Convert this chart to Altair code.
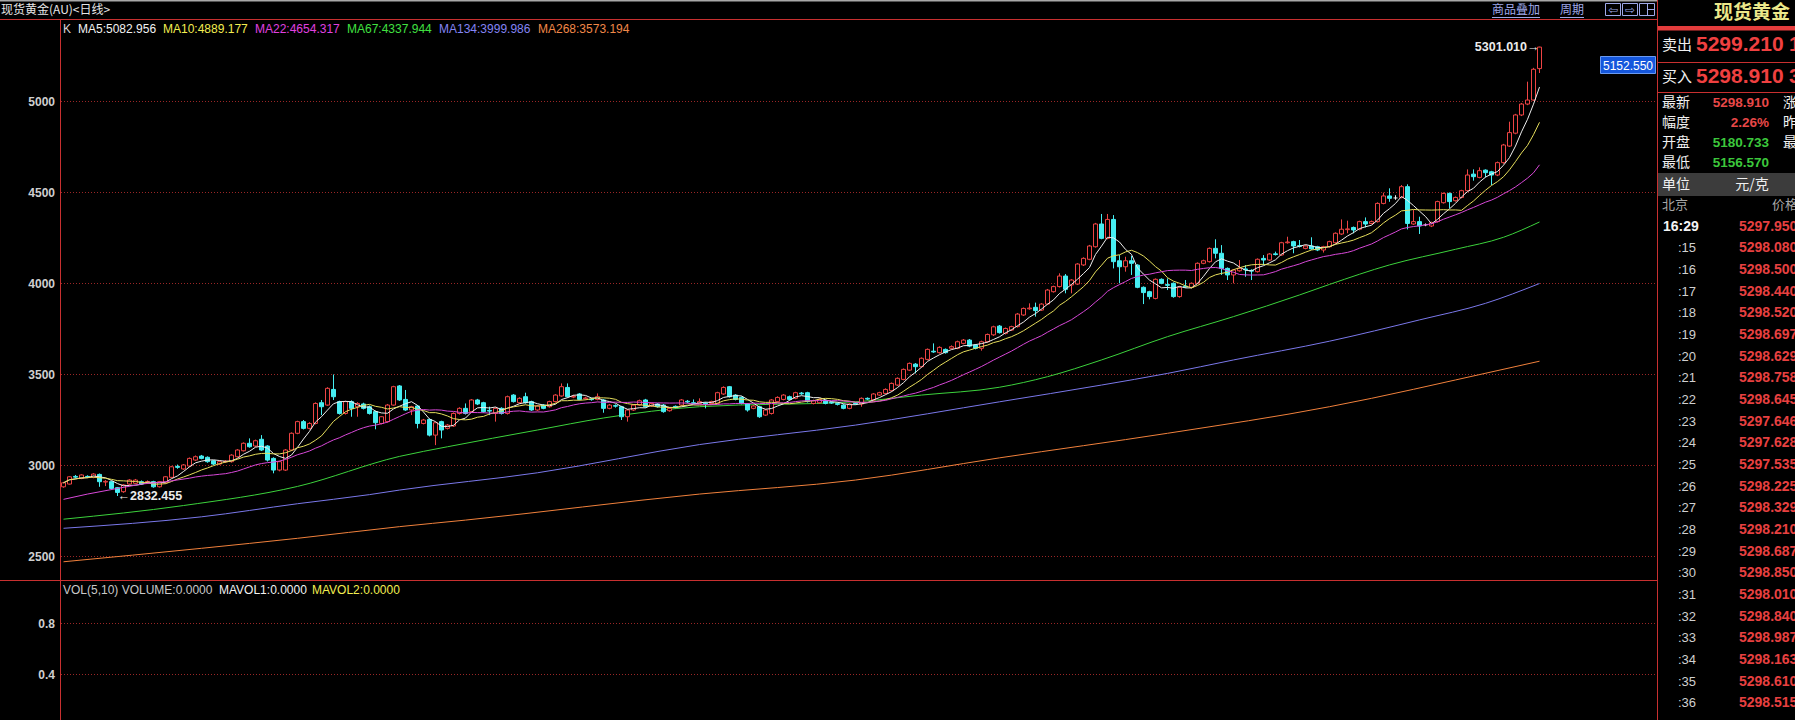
import altair as alt
import numpy as np
import pandas as pd

# ---------------- daily candles: spot gold (AU), one entry per session ----------------
opens = [
    2883, 2898, 2940, 2929, 2940, 2935, 2951, 2909, 2911, 2878,
    2856, 2898, 2902, 2911, 2910, 2911, 2883, 2905, 2935, 2995,
    2981, 2997, 3030, 3052, 3045, 3026, 3008, 3020, 3021, 3048,
    3081, 3122, 3107, 3144, 3107, 3039, 2975, 2975, 3085, 3177,
    3241, 3204, 3231, 3345, 3332, 3418, 3351, 3286, 3351, 3323,
    3338, 3323, 3296, 3231, 3241, 3332, 3437, 3363, 3305, 3327,
    3231, 3253, 3167, 3241, 3204, 3217, 3286, 3314, 3296, 3360,
    3345, 3303, 3286, 3314, 3286, 3387, 3345, 3378, 3351, 3305,
    3332, 3323, 3351, 3382, 3429, 3376, 3393, 3367, 3365, 3363,
    3360, 3314, 3329, 3323, 3268, 3305, 3332, 3360, 3327, 3338,
    3332, 3301, 3325, 3332, 3353, 3345, 3341, 3343, 3341, 3341,
    3393, 3433, 3387, 3374, 3338, 3314, 3323, 3277, 3286, 3351,
    3363, 3378, 3369, 3398, 3400, 3341, 3345, 3356, 3347, 3340,
    3332, 3314, 3343, 3338, 3369, 3360, 3387, 3396, 3411, 3442,
    3473, 3524, 3557, 3543, 3583, 3628, 3620, 3638, 3644, 3644,
    3671, 3689, 3662, 3644, 3680, 3718, 3766, 3726, 3744, 3763,
    3827, 3861, 3869, 3854, 3887, 3955, 3983, 4041, 3992, 3997,
    4102, 4133, 4202, 4327, 4248, 4352, 4125, 4092, 4125, 4101,
    3979, 3955, 3918, 4023, 3994, 4001, 3928, 3985, 3979, 4001,
    4111, 4120, 4193, 4166, 4083, 4047, 4070, 4080, 4072, 4065,
    4138, 4129, 4163, 4157, 4224, 4230, 4208, 4193, 4206, 4202,
    4184, 4202, 4224, 4272, 4296, 4308, 4298, 4340, 4330, 4340,
    4440, 4481, 4470, 4473, 4532, 4327, 4340, 4322, 4316, 4340,
    4444, 4495, 4455, 4473, 4510, 4601, 4583, 4623, 4614, 4596,
    4664, 4755, 4826, 4926, 4986, 5008, 5180.733,
]
highs = [
    2910, 2942, 2948, 2952, 2946, 2958, 2956, 2920, 2915, 2882,
    2898, 2925, 2926, 2918, 2918, 2916, 2915, 2942, 2998, 3005,
    3008, 3044, 3055, 3058, 3050, 3030, 3026, 3030, 3062, 3090,
    3127, 3149, 3142, 3167, 3112, 3045, 3026, 3090, 3182, 3246,
    3250, 3238, 3347, 3360, 3430, 3500, 3356, 3356, 3358, 3348,
    3345, 3330, 3302, 3272, 3338, 3438, 3442, 3415, 3328, 3332,
    3256, 3258, 3240, 3246, 3228, 3292, 3320, 3341, 3365, 3366,
    3350, 3323, 3320, 3320, 3384, 3392, 3375, 3400, 3356, 3332,
    3337, 3356, 3392, 3451, 3451, 3388, 3398, 3378, 3372, 3396,
    3365, 3338, 3336, 3328, 3310, 3338, 3362, 3366, 3346, 3343,
    3338, 3320, 3330, 3365, 3360, 3363, 3369, 3348, 3356, 3405,
    3435, 3437, 3392, 3380, 3343, 3332, 3328, 3310, 3365, 3380,
    3392, 3384, 3405, 3404, 3405, 3362, 3368, 3362, 3352, 3345,
    3337, 3343, 3348, 3374, 3374, 3398, 3405, 3424, 3456, 3484,
    3533, 3566, 3563, 3594, 3643, 3671, 3655, 3643, 3660, 3686,
    3695, 3695, 3667, 3686, 3725, 3768, 3772, 3758, 3768, 3838,
    3868, 3891, 3895, 3892, 3970, 3988, 4056, 4052, 4024, 4112,
    4144, 4212, 4333, 4382, 4382, 4376, 4156, 4147, 4151, 4106,
    3984, 3960, 4028, 4028, 4028, 4006, 3984, 4019, 4006, 4116,
    4131, 4198, 4243, 4211, 4088, 4079, 4129, 4101, 4078, 4138,
    4156, 4167, 4175, 4229, 4257, 4235, 4239, 4211, 4254, 4207,
    4207, 4235, 4281, 4352, 4345, 4313, 4345, 4363, 4346, 4446,
    4499, 4523, 4485, 4541, 4545, 4404, 4367, 4330, 4340, 4455,
    4500, 4500, 4478, 4515, 4627, 4627, 4638, 4627, 4619, 4670,
    4767, 4889, 4932, 4992, 5109, 5185, 5301.010,
]
lows = [
    2878, 2895, 2930, 2925, 2932, 2930, 2883, 2887, 2868, 2832.455,
    2850, 2894, 2898, 2894, 2904, 2878, 2879, 2900, 2930, 2982,
    2976, 2992, 3025, 3034, 3015, 3002, 3003, 3014, 3016, 3044,
    3077, 3098, 3102, 3080, 3022, 2957, 2968, 2970, 3080, 3172,
    3198, 3198, 3226, 3277, 3328, 3360, 3280, 3280, 3268, 3268,
    3308, 3280, 3199, 3226, 3236, 3328, 3355, 3300, 3277, 3204,
    3226, 3160, 3112, 3149, 3198, 3212, 3280, 3280, 3290, 3332,
    3290, 3277, 3241, 3280, 3280, 3346, 3340, 3340, 3300, 3300,
    3309, 3318, 3346, 3378, 3373, 3370, 3358, 3362, 3356, 3358,
    3290, 3309, 3318, 3250, 3241, 3300, 3327, 3318, 3322, 3318,
    3290, 3296, 3314, 3327, 3342, 3336, 3336, 3314, 3336, 3336,
    3388, 3373, 3358, 3336, 3296, 3309, 3262, 3272, 3280, 3346,
    3358, 3358, 3364, 3388, 3346, 3336, 3340, 3336, 3338, 3330,
    3309, 3309, 3334, 3323, 3360, 3355, 3382, 3391, 3406, 3437,
    3468, 3519, 3506, 3538, 3578, 3619, 3615, 3615, 3639, 3639,
    3666, 3650, 3638, 3631, 3675, 3712, 3725, 3720, 3739, 3758,
    3822, 3856, 3818, 3849, 3882, 3950, 3978, 3946, 3946, 3992,
    4096, 4128, 4197, 4243, 4243, 4083, 4001, 4065, 4047, 3974,
    3887, 3913, 3913, 3996, 3964, 3922, 3922, 3976, 3974, 3996,
    4106, 4115, 4138, 4047, 4019, 4001, 4065, 4037, 4019, 4060,
    4101, 4124, 4154, 4152, 4219, 4166, 4198, 4188, 4185, 4178,
    4170, 4197, 4219, 4267, 4276, 4276, 4292, 4308, 4325, 4335,
    4435, 4449, 4460, 4468, 4297, 4322, 4272, 4315, 4310, 4335,
    4439, 4413, 4450, 4468, 4505, 4565, 4578, 4583, 4541, 4590,
    4658, 4750, 4820, 4920, 4980, 5003, 5156.570,
]
closes = [
    2905, 2938, 2936, 2948, 2938, 2953, 2911, 2913, 2874, 2852,
    2893, 2920, 2920, 2898, 2912, 2883, 2911, 2938, 2993, 2990,
    3003, 3039, 3048, 3039, 3021, 3008, 3021, 3024, 3057, 3085,
    3122, 3103, 3136, 3085, 3030, 2975, 3021, 3085, 3177, 3241,
    3204, 3231, 3341, 3323, 3424, 3378, 3286, 3351, 3314, 3341,
    3314, 3286, 3235, 3268, 3332, 3433, 3360, 3305, 3323, 3231,
    3250, 3167, 3235, 3195, 3222, 3286, 3314, 3286, 3360, 3338,
    3296, 3299, 3314, 3286, 3378, 3351, 3369, 3345, 3305, 3327,
    3314, 3351, 3387, 3433, 3378, 3380, 3363, 3371, 3362, 3378,
    3314, 3332, 3326, 3268, 3305, 3332, 3356, 3323, 3341, 3323,
    3296, 3314, 3321, 3360, 3349, 3341, 3351, 3339, 3351, 3400,
    3429, 3378, 3363, 3341, 3305, 3327, 3268, 3305, 3360, 3374,
    3387, 3363, 3400, 3394, 3351, 3356, 3363, 3341, 3343, 3336,
    3314, 3338, 3339, 3369, 3365, 3393, 3400, 3418, 3451, 3479,
    3528, 3561, 3543, 3589, 3638, 3624, 3649, 3620, 3653, 3680,
    3689, 3656, 3644, 3680, 3720, 3762, 3730, 3753, 3763, 3832,
    3863, 3865, 3851, 3887, 3964, 3983, 4041, 3968, 4019, 4107,
    4138, 4206, 4327, 4248, 4352, 4120, 4092, 4125, 4111, 3979,
    3950, 3928, 4023, 4001, 3990, 3928, 3979, 3981, 4001, 4111,
    4125, 4193, 4166, 4083, 4047, 4074, 4083, 4076, 4068, 4133,
    4129, 4162, 4159, 4224, 4228, 4206, 4204, 4206, 4190, 4184,
    4202, 4230, 4276, 4298, 4300, 4294, 4340, 4327, 4340, 4440,
    4481, 4468, 4470, 4532, 4330, 4340, 4316, 4322, 4334, 4450,
    4495, 4450, 4473, 4510, 4596, 4587, 4620, 4609, 4596, 4664,
    4761, 4829, 4926, 4986, 5008, 5177, 5298.910,
]

# MA22 over the first sessions (its window reaches back before the first candle)
ma22_head_idx = [0, 4, 9, 13, 17]
ma22_head_val = [2814, 2843, 2874, 2898, 2911]

# long moving averages, sampled along the session axis
ma67_idx = [0, 20, 39, 56, 64, 79, 90, 106, 132, 143, 156, 164, 173, 184, 195, 206, 211, 221, 232, 240, 246]
ma67_val = [2705, 2780, 2885, 3050, 3103, 3195, 3261, 3323, 3350, 3387, 3430, 3488, 3580, 3708, 3818, 3937, 3995, 4102, 4188, 4254, 4338]
ma134_idx = [0, 23, 39, 51, 56, 79, 106, 132, 156, 173, 184, 195, 211, 226, 237, 246]
ma134_val = [2655, 2718, 2790, 2840, 2865, 2960, 3115, 3222, 3350, 3442, 3506, 3580, 3683, 3800, 3891, 4000]
ma268_idx = [0, 23, 39, 56, 67, 106, 132, 156, 184, 211, 218, 232, 246]
ma268_val = [2471, 2545, 2600, 2664, 2700, 2843, 2920, 3042, 3177, 3323, 3369, 3470, 3573]

price_ticks = [2500, 3000, 3500, 4000, 4500, 5000]
vol_ticks = [0.4, 0.8]

legend_items = ["K", "MA5:5082.956", "MA10:4889.177", "MA22:4654.317",
                "MA67:4337.944", "MA134:3999.986", "MA268:3573.194"]
vol_legend_items = ["VOL(5,10) VOLUME:0.0000", "MAVOL1:0.0000", "MAVOL2:0.0000"]

quote_labels = ["最新", "幅度", "开盘", "最低"]
quote_values = ["5298.910", "2.26%", "5180.733", "5156.570"]
quote_tail = ["涨", "昨", "最", ""]

tick_times = ["16:29", ":15", ":16", ":17", ":18", ":19", ":20", ":21", ":22", ":23", ":24", ":25",
              ":26", ":27", ":28", ":29", ":30", ":31", ":32", ":33", ":34", ":35", ":36"]
tick_prices = ["5297.950", "5298.080", "5298.500", "5298.440", "5298.520", "5298.697", "5298.629",
               "5298.758", "5298.645", "5297.646", "5297.628", "5297.535", "5298.225", "5298.329",
               "5298.210", "5298.687", "5298.850", "5298.010", "5298.840", "5298.987", "5298.163",
               "5298.610", "5298.515"]

# ---------------- styling ----------------
SANS = "Liberation Sans"
CJK = "Noto Sans CJK SC"
FRAME = "#c83030"
GRID = "#9a2626"
UP = "#ee4444"
DOWN = "#46eef2"
FLAT = "#f0f0f0"
LINK = "#9fa8e8"
W, H = 1795, 720
PANEL_R = 1657

n = len(closes)
bars = pd.DataFrame({"i": np.arange(n), "open": opens, "high": highs, "low": lows, "close": closes})
bars["top"] = bars[["open", "close"]].max(axis=1)
bars["bot"] = bars[["open", "close"]].min(axis=1)
bars["dir"] = np.select([bars.close > bars.open, bars.close < bars.open], ["up", "down"], "flat")
bars["x0"] = bars.i - 1 / 3
bars["x1"] = bars.i + 1 / 3

cs = pd.Series(closes, dtype=float)
ma5 = cs.rolling(5, min_periods=1).mean()
ma10 = cs.rolling(10, min_periods=1).mean()
ma22 = cs.rolling(22).mean()

short_ma = pd.concat([
    pd.DataFrame({"i": np.arange(n), "v": ma5, "name": "MA5"}),
    pd.DataFrame({"i": np.arange(n), "v": ma10, "name": "MA10"}),
    pd.DataFrame({"i": ma22_head_idx, "v": ma22_head_val, "name": "MA22"}),
    pd.DataFrame({"i": np.arange(21, n), "v": ma22[21:].values, "name": "MA22"}),
], ignore_index=True)
long_ma = pd.concat([
    pd.DataFrame({"i": ma67_idx, "v": ma67_val, "name": "MA67"}),
    pd.DataFrame({"i": ma134_idx, "v": ma134_val, "name": "MA134"}),
    pd.DataFrame({"i": ma268_idx, "v": ma268_val, "name": "MA268"}),
], ignore_index=True)

# scales: session index -> plot columns, price -> main panel, volume -> lower panel
XS = alt.Scale(domain=[0, n - 1], range=[63.5, 63.5 + 6 * (n - 1)], nice=False, zero=False)
YS = alt.Scale(domain=[2500, 5000], range=[556.5, 101.5], nice=False, zero=False)
VS = alt.Scale(domain=[0.4, 0.8], range=[674.5, 623.5], nice=False, zero=False)
RS = alt.Scale(domain=[0, len(tick_times) - 1], range=[226.7, 703.4], nice=False, zero=False)

xi = alt.X("i:Q", scale=XS, axis=None)
dir_color = alt.Color("dir:N", scale=alt.Scale(domain=["up", "down", "flat"], range=[UP, DOWN, FLAT]), legend=None)

one = pd.DataFrame({"k": [0]})


def txt(s, x, y, color, size=12, bold=False, align="left", font=SANS):
    return alt.Chart(one).mark_text(
        text=s, align=align, baseline="middle", font=font, fontSize=size,
        fontWeight="bold" if bold else "normal", color=color,
    ).encode(x=alt.value(x), y=alt.value(y))


def rect(x0, x1, y0, y1, fill=None, stroke=None):
    kw = {}
    if fill:
        kw["fill"] = fill
    else:
        kw["fillOpacity"] = 0
    if stroke:
        kw["stroke"] = stroke
        kw["strokeWidth"] = 1
    return alt.Chart(one).mark_rect(**kw).encode(
        x=alt.value(x0), x2=alt.value(x1), y=alt.value(y0), y2=alt.value(y1))


def rule(x0, x1, y0, y1, color, width=1):
    return alt.Chart(one).mark_rule(color=color, strokeWidth=width).encode(
        x=alt.value(x0), x2=alt.value(x1), y=alt.value(y0), y2=alt.value(y1))


layers = []

# ---- frame and header ----
layers += [
    rule(0, PANEL_R, 0.5, 0.5, "#a8a8a8", 2),
    rule(0, PANEL_R, 19.5, 19.5, FRAME),
    rule(0, PANEL_R, 580.5, 580.5, FRAME),
    rule(60.5, 60.5, 19.5, H, FRAME),
    rule(PANEL_R + 0.5, PANEL_R + 0.5, 0, H, FRAME),
    txt("现货黄金(AU)<日线>", 1, 10, "#e6e6e6", 12, font=CJK),
    txt("商品叠加", 1492, 10, LINK, 12, font=CJK),
    rule(1492, 1540, 17.5, 17.5, LINK),
    txt("周期", 1560, 10, LINK, 12, font=CJK),
    rule(1560, 1584, 17.5, 17.5, LINK),
    rect(1605.5, 1620.5, 3.5, 15.5, stroke=LINK),
    rect(1622.5, 1637.5, 3.5, 15.5, stroke=LINK),
    rect(1639.5, 1654.5, 3.5, 15.5, stroke=LINK),
    txt("⇦", 1613, 9.5, LINK, 12, align="center", font="DejaVu Sans"),
    txt("⇨", 1630, 9.5, LINK, 12, align="center", font="DejaVu Sans"),
    rule(1647.5, 1647.5, 3.5, 15.5, LINK),
    rule(1647.5, 1654.5, 9.5, 9.5, LINK),
]

# ---- gridlines and price labels ----
price_df = pd.DataFrame({"v": price_ticks, "label": [str(t) for t in price_ticks]})
vol_df = pd.DataFrame({"v": vol_ticks, "label": [f"{t:.1f}" for t in vol_ticks]})
for df_, sc in ((price_df, YS), (vol_df, VS)):
    layers.append(alt.Chart(df_).mark_rule(color=GRID, strokeDash=[1, 2]).encode(
        y=alt.Y("v:Q", scale=sc, axis=None), x=alt.value(61), x2=alt.value(PANEL_R)))
    layers.append(alt.Chart(df_).mark_text(
        align="right", baseline="middle", font=SANS, fontSize=12, fontWeight="bold", color="#cfcfcf"
    ).encode(y=alt.Y("v:Q", scale=sc, axis=None), x=alt.value(55), text="label:N"))

# ---- long moving averages ----
layers.append(alt.Chart(long_ma).mark_line(strokeWidth=1, interpolate="monotone").encode(
    x=xi, y=alt.Y("v:Q", scale=YS, axis=None),
    color=alt.Color("name:N", scale=alt.Scale(domain=["MA67", "MA134", "MA268"],
                                              range=["#3cd23c", "#7a78ea", "#f0803c"]), legend=None)))

# ---- candles ----
layers.append(alt.Chart(bars).mark_rule(strokeWidth=1).encode(
    x=xi, y=alt.Y("high:Q", scale=YS, axis=None), y2="top:Q", color=dir_color))
layers.append(alt.Chart(bars).mark_rule(strokeWidth=1).encode(
    x=xi, y=alt.Y("bot:Q", scale=YS, axis=None), y2="low:Q", color=dir_color))
body_x = alt.X("x0:Q", scale=XS, axis=None)
layers.append(alt.Chart(bars).transform_filter("datum.dir === 'up'").mark_rect(
    fill="#000000", stroke=UP, strokeWidth=1).encode(
    x=body_x, x2="x1:Q", y=alt.Y("open:Q", scale=YS, axis=None), y2="close:Q"))
layers.append(alt.Chart(bars).transform_filter("datum.dir === 'down'").mark_rect(
    fill=DOWN, stroke=DOWN, strokeWidth=1).encode(
    x=body_x, x2="x1:Q", y=alt.Y("open:Q", scale=YS, axis=None), y2="close:Q"))
layers.append(alt.Chart(bars).transform_filter("datum.dir === 'flat'").mark_rule(
    color=FLAT, strokeWidth=1).encode(
    x=body_x, x2="x1:Q", y=alt.Y("open:Q", scale=YS, axis=None)))

# ---- short moving averages ----
layers.append(alt.Chart(short_ma).mark_line(strokeWidth=1).encode(
    x=xi, y=alt.Y("v:Q", scale=YS, axis=None),
    color=alt.Color("name:N", scale=alt.Scale(domain=["MA5", "MA10", "MA22"],
                                              range=["#eeeeee", "#e6de5c", "#d848d8"]), legend=None)))

# ---- extreme price markers ----
i_lo = int(np.argmin(lows))
i_hi = int(np.argmax(highs))
lo_df = pd.DataFrame({"i": [i_lo], "v": [lows[i_lo]], "t": [f"←{lows[i_lo]:.3f}"]})
hi_df = pd.DataFrame({"i": [i_hi], "v": [highs[i_hi]], "t": [f"{highs[i_hi]:.3f}→"]})
layers.append(alt.Chart(lo_df).mark_text(align="left", baseline="middle", dx=0, font=SANS, fontSize=12.5,
                                         fontWeight="bold", color="#ececec").encode(
    x=xi, y=alt.Y("v:Q", scale=YS, axis=None), text="t:N"))
layers.append(alt.Chart(hi_df).mark_text(align="right", baseline="middle", dx=0, font=SANS, fontSize=12.5,
                                         fontWeight="bold", color="#ececec").encode(
    x=xi, y=alt.Y("v:Q", scale=YS, axis=None), text="t:N"))

# cursor readout box
layers += [
    rect(1600.5, 1655.5, 56.5, 73.5, fill="#1456dc", stroke="#6a9af0"),
    txt("5152.550", 1628, 65.5, "#ffffff", 12, align="center"),
]

# ---- indicator legends ----
legend_x = [63, 78, 163, 255, 347, 439, 538]
legend_c = ["#d6d6d6", "#f2f2f2", "#f2ee50", "#e040e0", "#40e040", "#8484f4", "#f08848"]
for s, x, c in zip(legend_items, legend_x, legend_c):
    layers.append(txt(s, x, 29, c, 12))
for s, x, c in zip(vol_legend_items, [63, 219, 312], ["#c8c8c8", "#f2f2f2", "#f2ee50"]):
    layers.append(txt(s, x, 590, c, 12))

# ---- quote panel ----
layers += [
    txt("现货黄金", 1714, 13, "#ece88a", 19, bold=True, font=CJK),
    rect(PANEL_R + 1, W, 26, 30.5, fill="#e43c3c"),
    txt("卖出", 1662, 45, "#f0f0f0", 15, font=CJK),
    txt("5299.210", 1696, 45, "#f04040", 21, bold=True),
    txt("1", 1789, 45, "#f04040", 21, bold=True),
    rule(PANEL_R, W, 62.5, 62.5, FRAME),
    txt("买入", 1662, 77, "#f0f0f0", 15, font=CJK),
    txt("5298.910", 1696, 77, "#f04040", 21, bold=True),
    txt("3", 1789, 77, "#f04040", 21, bold=True),
    rule(PANEL_R, W, 92.5, 92.5, FRAME),
]
value_colors = ["#e84848", "#e84848", "#3cc83c", "#3cc83c"]
for k, (lab, val, tail, vc) in enumerate(zip(quote_labels, quote_values, quote_tail, value_colors)):
    y = 103 + 20 * k
    layers.append(txt(lab, 1662, y, "#f0f0f0", 14, font=CJK))
    layers.append(txt(val, 1769, y, vc, 13.5, bold=True, align="right"))
    if tail:
        layers.append(txt(tail, 1783, y, "#f0f0f0", 14, font=CJK))
layers += [
    rect(PANEL_R + 1, W, 173, 196, fill="#3c3c3c"),
    txt("单位", 1662, 185, "#f0f0f0", 14, font=CJK),
    txt("元/克", 1752, 185, "#f0f0f0", 14, align="center", font=CJK),
    txt("北京", 1662, 205, "#a8a8a8", 13, font=CJK),
    txt("价格", 1772, 205, "#a8a8a8", 13, font=CJK),
]

ticks = pd.DataFrame({"row": np.arange(len(tick_times)), "t": tick_times, "p": tick_prices})
ticks["first"] = ticks.row == 0
ry = alt.Y("row:Q", scale=RS, axis=None)
layers.append(alt.Chart(ticks).transform_filter("datum.row == 0").mark_text(
    align="left", baseline="middle", font=SANS, fontSize=14, fontWeight="bold", color="#f4f4f4").encode(
    x=alt.value(1663), y=ry, text="t:N"))
layers.append(alt.Chart(ticks).transform_filter("datum.row > 0").mark_text(
    align="right", baseline="middle", font=SANS, fontSize=13, color="#d0d0d0").encode(
    x=alt.value(1696), y=ry, text="t:N"))
layers.append(alt.Chart(ticks).mark_text(
    align="left", baseline="middle", font=SANS, fontSize=14, fontWeight="bold", color="#e84040").encode(
    x=alt.value(1739), y=ry, text="p:N"))

chart = alt.layer(*layers).resolve_scale(
    x="independent", y="independent", color="independent"
).properties(
    width=W, height=H, background="#000000", padding=0,
    autosize=alt.AutoSizeParams(type="none"),
).configure_view(strokeWidth=0)

chart.save("out.html", embed_options={"renderer": "svg", "actions": False})
